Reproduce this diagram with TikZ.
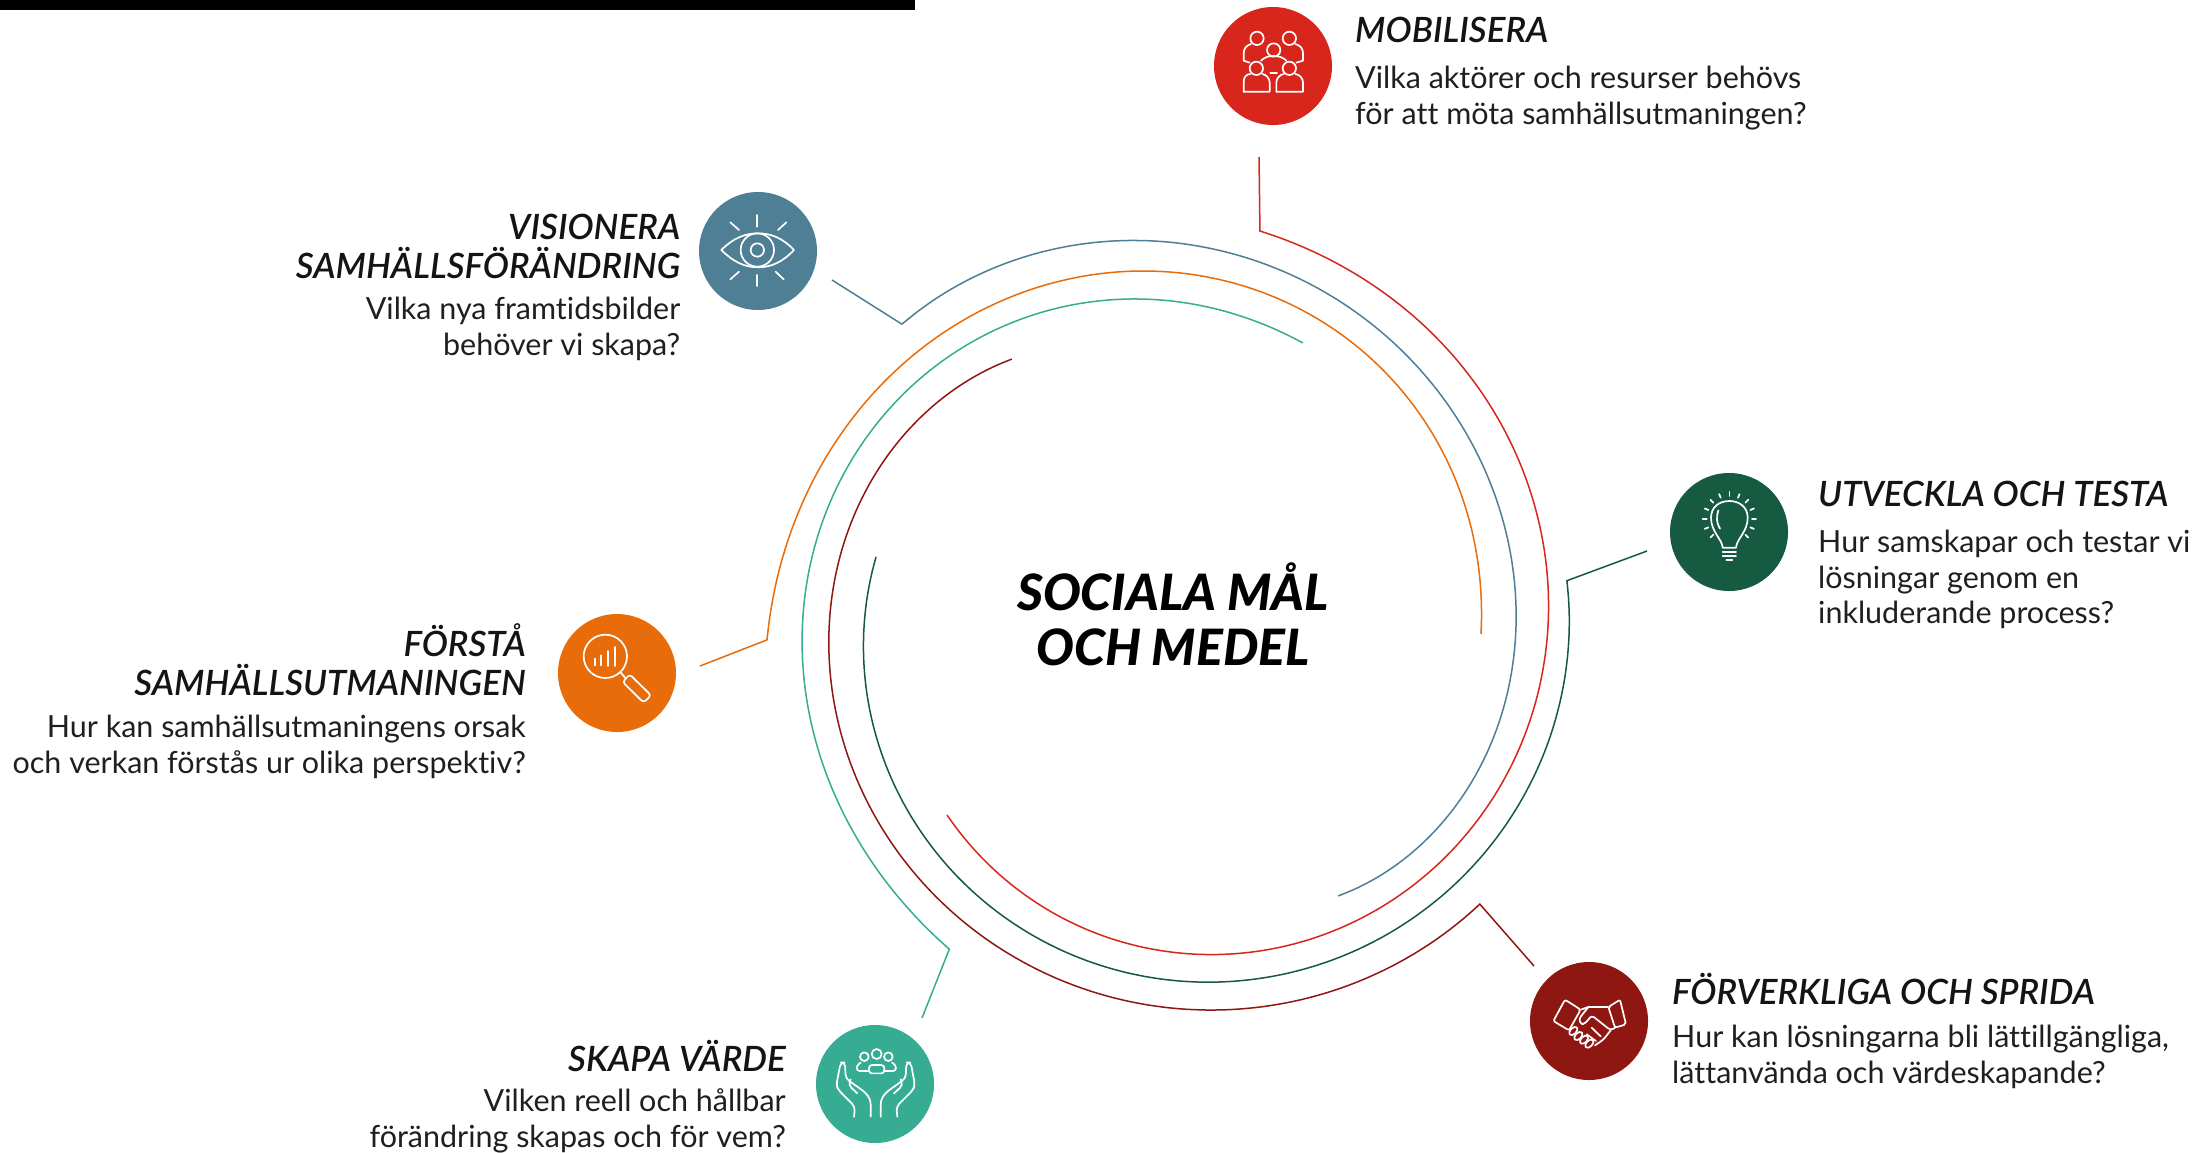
\documentclass[tikz,border=0pt]{standalone}
\usepackage{fontspec}
\setmainfont{Lato}[Ligatures=NoCommon]
\newfontfamily\headfont{Lato Semibold Italic}[Ligatures=NoCommon]
\newfontfamily\titlefont{Lato Black Italic}[Ligatures=NoCommon]
\definecolor{cred}{HTML}{D9261C}
\definecolor{cblue}{HTML}{4F7F95}
\definecolor{corange}{HTML}{E86C0A}
\definecolor{cgreen}{HTML}{155A41}
\definecolor{cmaroon}{HTML}{8E1712}
\definecolor{cteal}{HTML}{36AC93}
\tikzset{
  disc/.style={circle,fill=#1,draw=none,minimum size=118bp,inner sep=0pt},
  ring/.style={draw=#1,line width=1.5bp,line join=miter},
  icon/.style={draw=white,line width=1.7bp,line cap=round,line join=round},
  head/.style={inner sep=0pt,font=\fontsize{35}{39.4}\selectfont\headfont,execute at begin node=\strut,text=black!92},
  desc/.style={inner sep=0pt,font=\fontsize{30.6}{36}\selectfont,execute at begin node=\strut,text=black!88},
  title/.style={inner sep=0pt,font=\fontsize{50.3}{55}\selectfont\titlefont,align=center,execute at begin node=\strut,text=black}
}
% polar spiral about (1173,620) through five knots (angle, radius)
\newcommand\knotset[5]{\def\ka{#1}\def\kb{#2}\def\kc{#3}\def\kd{#4}\def\ke{#5}}
\newcommand\radset[5]{\def\ra{#1}\def\rb{#2}\def\rc{#3}\def\rd{#4}\def\re{#5}}
\newcommand\LL[5]{((\x-(#2))/((#1)-(#2))*(\x-(#3))/((#1)-(#3))*(\x-(#4))/((#1)-(#4))*(\x-(#5))/((#1)-(#5)))}
\newcommand\RR{(\ra*\LL\ka\kb\kc\kd\ke+\rb*\LL\kb\ka\kc\kd\ke+\rc*\LL\kc\ka\kb\kd\ke+\rd*\LL\kd\ka\kb\kc\ke+\re*\LL\ke\ka\kb\kc\kd)}
\begin{document}
\begin{tikzpicture}[x=1bp,y=-1bp]
\useasboundingbox (0,0) rectangle (2205,1152);
\fill[white] (0,0) rectangle (2205,1152);
\fill[black] (0,0) rectangle (915,10);
% discs
\node[disc=cred] (dred) at (1273,66) {};
\node[disc=cblue] (dblue) at (758,251) {};
\node[disc=corange] (dorange) at (617,673) {};
\node[disc=cgreen] (dgreen) at (1729,532) {};
\node[disc=cmaroon] (dmaroon) at (1589,1021) {};
\node[disc=cteal] (dteal) at (875,1084) {};
% free ends of the connectors
\coordinate (ered) at (1259,157);
\coordinate (eblue) at (832,280);
\coordinate (eorange) at (700,666);
\coordinate (egreen) at (1647,551);
\coordinate (emaroon) at (1534,966);
\coordinate (eteal) at (922,1018);
% rings
\knotset{-132.5}{-80}{-30}{15}{59.1}\radset{401.3}{370.6}{347}{342}{321.6}
\draw[ring=cblue] (eblue) -- plot[domain=\ka:\ke,samples=70,smooth] ({1173+\RR*cos(\x)},{620+\RR*sin(\x)});
\knotset{-182.8}{-140.7}{-94.9}{-50}{2.6}\radset{406.5}{374.5}{350.3}{326.5}{308.3}
\draw[ring=corange] (eorange) -- plot[domain=\ka:\ke,samples=70,smooth] ({1173+\RR*cos(\x)},{620+\RR*sin(\x)});
\knotset{124.2}{159.4}{202.4}{254.2}{295.1}\radset{398}{378}{361}{329.5}{306}
\draw[ring=cteal] (eteal) -- plot[domain=\ka:\ke,samples=70,smooth] ({1173+\RR*cos(\x)},{620+\RR*sin(\x)});
\knotset{42.8}{83.1}{131.3}{188.5}{238.3}\radset{418.2}{392.8}{364}{340}{306.7}
\draw[ring=cmaroon] (emaroon) -- plot[domain=\ka:\ke,samples=70,smooth] ({1173+\RR*cos(\x)},{620+\RR*sin(\x)});
\knotset{-5.7}{36.2}{88.9}{150}{192}\radset{395.9}{389.2}{361.1}{323.5}{303.6}
\draw[ring=cgreen] (egreen) -- plot[domain=\ka:\ke,samples=70,smooth] ({1173+\RR*cos(\x)},{620+\RR*sin(\x)});
\knotset{-77.4}{-18.4}{30.8}{89}{139.2}\radset{398.6}{379.5}{365.5}{333}{298.5}
\draw[ring=cred] (ered) -- plot[domain=\ka:\ke,samples=70,smooth] ({1173+\RR*cos(\x)},{620+\RR*sin(\x)});
% people icon
\begin{scope}[x=0.3333bp,y=-0.3333bp,shift={(dred.center)},shift={(-278,-198)},icon]
\draw (230,115) circle[radius=20] (327,115) circle[radius=20] (280,150) circle[radius=20] (228,205) circle[radius=20] (327,205) circle[radius=20];
\draw (190,275) -- (190,245) .. controls (190,230) and (200,222) .. (210,222);
\draw (246,222) .. controls (258,224) and (268,235) .. (268,248) -- (268,275) -- (190,275);
\draw (288,275) -- (288,248) .. controls (288,235) and (298,224) .. (310,222);
\draw (345,222) .. controls (358,224) and (368,235) .. (368,248) -- (368,275) -- (288,275);
\draw (212,132) .. controls (198,136) and (190,146) .. (190,160) -- (190,182) -- (208,188);
\draw (345,132) .. controls (360,136) and (368,146) .. (368,160) -- (368,182) -- (348,188);
\draw (242,182) .. controls (252,172) and (264,168) .. (280,168) .. controls (296,168) and (308,172) .. (318,182);
\draw (270,220) -- (290,220);
\end{scope}
% eye icon
\begin{scope}[x=0.3333bp,y=-0.3333bp,shift={(dblue.center)},shift={(-235,-213)},icon]
\draw (125,210) .. controls (160,175) and (195,160) .. (235,160) .. controls (275,160) and (310,175) .. (343,210) .. controls (310,245) and (275,262) .. (235,262) .. controls (195,262) and (160,245) .. (125,210) -- cycle;
\draw (233,210) circle[radius=50] (233,210) circle[radius=20];
\draw (232,105) -- (232,140) (232,285) -- (232,318) (152,127) -- (178,150) (320,127) -- (295,150) (152,298) -- (178,275) (312,298) -- (288,275);
\end{scope}
% magnifier icon
\begin{scope}[x=0.3333bp,y=-0.3333bp,shift={(dorange.center)},shift={(-230,-218)},icon]
\draw (195,168) circle[radius=65];
\draw (163,175) -- (163,195) (183,165) -- (183,195) (204,152) -- (204,197) (225,140) -- (225,197);
\draw (240,215) -- (254,232);
\draw[rounded corners=3bp] (247,245) -- (268,222) -- (332,285) -- (310,307) -- cycle;
\end{scope}
% bulb icon
\begin{scope}[x=0.3333bp,y=-0.3333bp,shift={(dgreen.center)},shift={(-237,-215)},icon]
\draw (218,262) .. controls (216,235) and (183,215) .. (183,172) .. controls (183,140) and (208,122) .. (238,122) .. controls (268,122) and (293,140) .. (293,172) .. controls (293,215) and (260,235) .. (258,262) -- cycle;
\draw (205,150) .. controls (198,170) and (200,190) .. (210,205);
\draw (218,276) -- (258,276) (218,288) -- (258,288) (229,298) -- (247,298);
\foreach \a in {-45,-22.5,...,225} \draw ({238+68*cos(\a)},{175-68*sin(\a)}) -- ({238+80*cos(\a)},{175-80*sin(\a)});
\end{scope}
% handshake icon
\begin{scope}[x=0.3333bp,y=-0.3333bp,shift={(dmaroon.center)},shift={(-207,-212)},icon]
\draw[rounded corners=2bp] (100,212) -- (135,148) -- (182,178) -- (147,240) -- cycle;
\draw[rounded corners=2bp] (265,170) -- (300,148) -- (318,222) -- (285,232) -- cycle;
\draw (182,178) -- (205,170) -- (265,170);
\draw[rounded corners=3bp] (205,170) -- (177,205) -- (182,222) -- (195,220) -- (215,195) -- (272,240) -- (285,232);
\draw[rounded corners=3bp] (272,240) -- (250,268) -- (225,285);
\draw (215,232) -- (242,258) (200,252) -- (228,272);
\foreach \c in {(160,242),(175,257),(192,268),(208,280)} \draw[rotate around={45:\c}] \c ellipse[x radius=15,y radius=9];
\end{scope}
% hands icon
\begin{scope}[x=0.3333bp,y=-0.3333bp,shift={(dteal.center)},shift={(-225,-222)},icon]
\draw (193,140) circle[radius=13] (230,132) circle[radius=15] (265,140) circle[radius=13];
\draw[rounded corners=3bp] (207,190) -- (207,165) -- (253,165) -- (253,190) -- cycle;
\draw[rounded corners=3bp] (207,183) -- (170,183) -- (170,166) -- (182,158) (253,183) -- (288,183) -- (288,166) -- (276,158);
\foreach \s in {1,-1}{
\begin{scope}[shift={(227,0)},xscale=\s]
\draw[rounded corners=4bp] (-65,320) -- (-62,290) -- (-112,240) -- (-118,225) -- (-105,157) -- (-92,157) -- (-90,205) -- (-30,248) -- (-15,270) -- (-15,320);
\draw[rounded corners=4bp] (-55,250) -- (-82,225) -- (-75,208);
\end{scope}}
\end{scope}
% texts
\node[title,anchor=north] (tcentre) at (1173,563) {SOCIALA MÅL\\OCH MEDEL};
\node[head,anchor=north west,align=left] (hmob) at (1355,14.5) {MOBILISERA};
\node[desc,anchor=north west,align=left] (dmob) at (1355,66) {Vilka aktörer och resurser behövs\\för att möta samhällsutmaningen?};
\node[head,anchor=north east,align=right] (hvis) at (680.5,213.5) {VISIONERA\\SAMHÄLLSFÖRÄNDRING};
\node[desc,anchor=north east,align=right] (dvis) at (680.5,297) {Vilka nya framtidsbilder\\behöver vi skapa?};
\node[head,anchor=north east,align=right] (hfor) at (526,623) {FÖRSTÅ\\SAMHÄLLSUTMANINGEN};
\node[desc,anchor=north east,align=right] (dfor) at (526,715) {Hur kan samhällsutmaningens orsak\\och verkan förstås ur olika perspektiv?};
\node[head,anchor=north west,align=left] (hutv) at (1818,478.5) {UTVECKLA OCH TESTA};
\node[desc,anchor=north west,align=left] (dutv) at (1818,529.5) {Hur samskapar och testar vi\\lösningar genom en\\inkluderande process?};
\node[head,anchor=north west,align=left] (hfv) at (1672,972.6) {FÖRVERKLIGA OCH SPRIDA};
\node[desc,anchor=north west,align=left] (dfv) at (1672,1025) {Hur kan lösningarna bli lättillgängliga,\\lättanvända och värdeskapande?};
\node[head,anchor=north east,align=right] (hska) at (786,1039.6) {SKAPA VÄRDE};
\node[desc,anchor=north east,align=right] (dska) at (786,1088.5) {Vilken reell och hållbar\\förändring skapas och för vem?};
\end{tikzpicture}
\end{document}
